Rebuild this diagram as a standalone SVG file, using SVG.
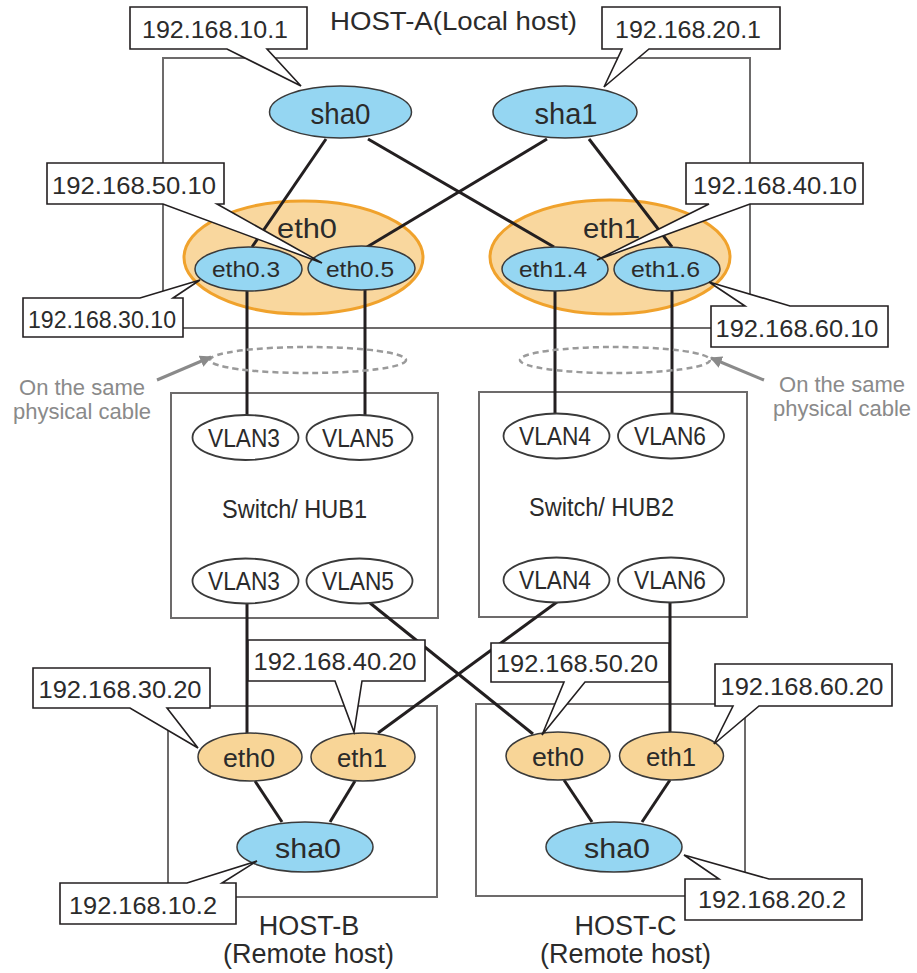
<svg xmlns="http://www.w3.org/2000/svg" width="917" height="973" viewBox="0 0 917 973">
<style>
  .bg{fill:#fff}
  .host{fill:none;stroke:#6d6b6b;stroke-width:2}
  .blue{fill:#95d6f2;stroke:#3a3a3a;stroke-width:1.5}
  .orng{fill:#f8d597;stroke:#3a3a3a;stroke-width:1.5}
  .big{fill:#f9d79e;stroke:#f0a22c;stroke-width:3}
  .vlan{fill:#fff;stroke:#3a3a3a;stroke-width:1.8}
  .link{stroke:#231f20;stroke-width:3;fill:none}
  .call{fill:#fff;stroke:#231f20;stroke-width:1.6}
  .t{font-family:"Liberation Sans",Arial,sans-serif;fill:#2b2b2b;text-anchor:middle}
  .ip{font-size:24px}
  .nm{font-size:27px}
  .sm{font-size:22px}
  .vl{font-size:25px}
  .gray{font-family:"Liberation Sans",Arial,sans-serif;fill:#8a8a8a;font-size:22px;text-anchor:middle}
  .dash{fill:none;stroke:#9a9a9a;stroke-width:2.5;stroke-dasharray:6 4}
  .arr{stroke:#8a8a8a;stroke-width:3;fill:none}
  .hub{font-family:"Liberation Sans",Arial,sans-serif;font-size:25px;fill:#2b2b2b}
</style>
<defs>
  <marker id="ah" viewBox="0 0 10 10" refX="9" refY="5" markerWidth="4" markerHeight="4" orient="auto">
    <path d="M0,0 L10,5 L0,10 Z" fill="#8a8a8a"/>
  </marker>
</defs>
<rect class="bg" x="0" y="0" width="917" height="973"/>

<!-- Host / switch boxes -->
<g id="host-a">
  <rect class="host" x="163" y="58" width="587" height="270"/>
  <text class="t" x="453.5" y="30" style="font-size:25px" textLength="247" lengthAdjust="spacingAndGlyphs">HOST-A(Local host)</text>
</g>
<g id="hub1">
  <rect class="host" x="171" y="393" width="267" height="225"/>
  <text class="hub" x="222" y="518" textLength="145" lengthAdjust="spacingAndGlyphs">Switch/ HUB1</text>
</g>
<g id="hub2">
  <rect class="host" x="479" y="392" width="268" height="225"/>
  <text class="hub" x="529" y="516" textLength="145" lengthAdjust="spacingAndGlyphs">Switch/ HUB2</text>
</g>
<g id="host-b">
  <rect class="host" x="168" y="706" width="269" height="191"/>
  <text class="t nm" x="309" y="935">HOST-B</text>
  <text class="t nm" x="308.5" y="963">(Remote host)</text>
</g>
<g id="host-c">
  <rect class="host" x="476" y="704" width="269" height="192"/>
  <text class="t nm" x="625.5" y="935">HOST-C</text>
  <text class="t nm" x="625.5" y="963">(Remote host)</text>
</g>

<!-- big eth ellipses -->
<g id="a-eth0">
  <ellipse class="big" cx="303.5" cy="257.5" rx="119.5" ry="56.5"/>
  <text class="t" style="font-size:28px" x="307" y="238" textLength="60" lengthAdjust="spacingAndGlyphs">eth0</text>
</g>
<g id="a-eth1">
  <ellipse class="big" cx="610" cy="257" rx="120" ry="57"/>
  <text class="t" style="font-size:28px" x="611.5" y="238" textLength="57" lengthAdjust="spacingAndGlyphs">eth1</text>
</g>

<!-- connectors -->
<g id="connectors">
  <line class="link" x1="326" y1="139" x2="252" y2="247"/>
  <line class="link" x1="368" y1="139" x2="554" y2="247"/>
  <line class="link" x1="547" y1="139" x2="367" y2="247"/>
  <line class="link" x1="589" y1="139" x2="672" y2="247"/>
  <line class="link" x1="247" y1="291" x2="247" y2="415"/>
  <line class="link" x1="365" y1="290" x2="365" y2="415"/>
  <line class="link" x1="555" y1="291" x2="555" y2="413"/>
  <line class="link" x1="672" y1="291" x2="672" y2="413"/>
  <line class="link" x1="247" y1="604" x2="247" y2="733"/>
  <line class="link" x1="370" y1="603" x2="533" y2="734"/>
  <line class="link" x1="557" y1="602" x2="378" y2="733"/>
  <line class="link" x1="670" y1="602" x2="670" y2="732"/>
  <line class="link" x1="255" y1="781" x2="282" y2="822"/>
  <line class="link" x1="355" y1="781" x2="330" y2="822"/>
  <line class="link" x1="564" y1="780" x2="592" y2="822"/>
  <line class="link" x1="670" y1="780" x2="642" y2="822"/>
</g>

<!-- HOST-A nodes -->
<g id="a-sha0"><ellipse class="blue" cx="340.5" cy="112" rx="71" ry="26"/><text class="t" style="font-size:29px" x="340.5" y="124" textLength="60" lengthAdjust="spacingAndGlyphs">sha0</text></g>
<g id="a-sha1"><ellipse class="blue" cx="565" cy="112" rx="72" ry="26"/><text class="t" style="font-size:29px" x="566" y="124" textLength="63" lengthAdjust="spacingAndGlyphs">sha1</text></g>
<g id="a-eth03"><ellipse class="blue" cx="248.5" cy="269" rx="53.5" ry="22"/><text class="t sm" x="246" y="277" textLength="68" lengthAdjust="spacingAndGlyphs">eth0.3</text></g>
<g id="a-eth05"><ellipse class="blue" cx="361.5" cy="268" rx="53.5" ry="22"/><text class="t sm" x="360" y="277" textLength="68" lengthAdjust="spacingAndGlyphs">eth0.5</text></g>
<g id="a-eth14"><ellipse class="blue" cx="555" cy="269" rx="53" ry="22"/><text class="t sm" x="553" y="277" textLength="68" lengthAdjust="spacingAndGlyphs">eth1.4</text></g>
<g id="a-eth16"><ellipse class="blue" cx="667" cy="269" rx="53" ry="22"/><text class="t sm" x="665.5" y="277" textLength="69" lengthAdjust="spacingAndGlyphs">eth1.6</text></g>

<!-- VLANs -->
<g id="hub1-vlan3-top"><ellipse class="vlan" cx="245.5" cy="437.5" rx="53" ry="22.5"/><text class="t vl" x="244" y="447" textLength="72" lengthAdjust="spacingAndGlyphs">VLAN3</text></g>
<g id="hub1-vlan5-top"><ellipse class="vlan" cx="359.5" cy="437.5" rx="53" ry="22.5"/><text class="t vl" x="358" y="447" textLength="72" lengthAdjust="spacingAndGlyphs">VLAN5</text></g>
<g id="hub1-vlan3-bot"><ellipse class="vlan" cx="245.5" cy="581" rx="53" ry="22.5"/><text class="t vl" x="244" y="590" textLength="72" lengthAdjust="spacingAndGlyphs">VLAN3</text></g>
<g id="hub1-vlan5-bot"><ellipse class="vlan" cx="359.5" cy="581" rx="53" ry="22.5"/><text class="t vl" x="358" y="590" textLength="72" lengthAdjust="spacingAndGlyphs">VLAN5</text></g>
<g id="hub2-vlan4-top"><ellipse class="vlan" cx="556.5" cy="436" rx="53" ry="22.5"/><text class="t vl" x="555" y="445" textLength="72" lengthAdjust="spacingAndGlyphs">VLAN4</text></g>
<g id="hub2-vlan6-top"><ellipse class="vlan" cx="671" cy="436" rx="53" ry="22.5"/><text class="t vl" x="670" y="445" textLength="72" lengthAdjust="spacingAndGlyphs">VLAN6</text></g>
<g id="hub2-vlan4-bot"><ellipse class="vlan" cx="556.5" cy="580" rx="53" ry="22.5"/><text class="t vl" x="555" y="589" textLength="72" lengthAdjust="spacingAndGlyphs">VLAN4</text></g>
<g id="hub2-vlan6-bot"><ellipse class="vlan" cx="671" cy="580" rx="53" ry="22.5"/><text class="t vl" x="670" y="589" textLength="72" lengthAdjust="spacingAndGlyphs">VLAN6</text></g>

<!-- HOST-B nodes -->
<g id="b-eth0"><ellipse class="orng" cx="250" cy="757" rx="52" ry="24"/><text class="t" style="font-size:25px" x="249" y="767" textLength="52" lengthAdjust="spacingAndGlyphs">eth0</text></g>
<g id="b-eth1"><ellipse class="orng" cx="363" cy="757" rx="52" ry="24"/><text class="t" style="font-size:25px" x="362" y="767" textLength="50" lengthAdjust="spacingAndGlyphs">eth1</text></g>
<g id="b-sha0"><ellipse class="blue" cx="305" cy="847" rx="68" ry="25"/><text class="t" style="font-size:28px" x="308" y="858" textLength="66" lengthAdjust="spacingAndGlyphs">sha0</text></g>
<!-- HOST-C nodes -->
<g id="c-eth0"><ellipse class="orng" cx="558" cy="756" rx="52" ry="24"/><text class="t" style="font-size:25px" x="558" y="766" textLength="52" lengthAdjust="spacingAndGlyphs">eth0</text></g>
<g id="c-eth1"><ellipse class="orng" cx="671.5" cy="756" rx="52" ry="24"/><text class="t" style="font-size:25px" x="671" y="766" textLength="50" lengthAdjust="spacingAndGlyphs">eth1</text></g>
<g id="c-sha0"><ellipse class="blue" cx="614" cy="847" rx="68" ry="25"/><text class="t" style="font-size:28px" x="617" y="858" textLength="66" lengthAdjust="spacingAndGlyphs">sha0</text></g>

<!-- physical cable marks -->
<g id="cable-left">
  <ellipse class="dash" cx="308" cy="360" rx="98" ry="13"/>
  <line class="arr" x1="157" y1="380" x2="211" y2="357" marker-end="url(#ah)"/>
  <text class="gray" x="82" y="395">On the same</text>
  <text class="gray" x="82" y="419">physical cable</text>
</g>
<g id="cable-right">
  <ellipse class="dash" cx="615" cy="360" rx="95" ry="13"/>
  <line class="arr" x1="764" y1="380" x2="711" y2="358" marker-end="url(#ah)"/>
  <text class="gray" x="842" y="392">On the same</text>
  <text class="gray" x="842" y="416">physical cable</text>
</g>

<!-- callouts -->
<g id="ip-10-1"><path class="call" d="M130,7 H307 V49 H267 L301,86 L227,49 H130 Z"/><text class="t ip" x="215" y="38" textLength="146" lengthAdjust="spacingAndGlyphs">192.168.10.1</text></g>
<g id="ip-20-1"><path class="call" d="M602,7 H780 V49 H649 L604,87 L622,49 H602 Z"/><text class="t ip" x="688" y="38" textLength="146" lengthAdjust="spacingAndGlyphs">192.168.20.1</text></g>
<g id="ip-50-10"><path class="call" d="M47,163 H224 V204 H217 L322,263 L163,204 H47 Z"/><text class="t ip" x="134" y="194" textLength="164" lengthAdjust="spacingAndGlyphs">192.168.50.10</text></g>
<g id="ip-30-10"><path class="call" d="M23,298 H140 L200,280 L173,298 H183 V337 H23 Z"/><text class="t ip" x="102" y="328" textLength="148" lengthAdjust="spacingAndGlyphs">192.168.30.10</text></g>
<g id="ip-40-10"><path class="call" d="M686,163 H863 V204 H750 L597,260 L709,204 H686 Z"/><text class="t ip" x="775" y="194" textLength="164" lengthAdjust="spacingAndGlyphs">192.168.40.10</text></g>
<g id="ip-60-10"><path class="call" d="M711,306 H745 L709,282 L790,306 H888 V347 H711 Z"/><text class="t ip" x="797" y="337" textLength="163" lengthAdjust="spacingAndGlyphs">192.168.60.10</text></g>
<g id="ip-40-20"><path class="call" d="M248,640 H425 V681 H362 L354,732 L335,681 H248 Z"/><text class="t ip" x="335" y="670" textLength="163" lengthAdjust="spacingAndGlyphs">192.168.40.20</text></g>
<g id="ip-30-20"><path class="call" d="M33,668 H210 V708 H167 L198,748 L130,708 H33 Z"/><text class="t ip" x="120" y="698" textLength="163" lengthAdjust="spacingAndGlyphs">192.168.30.20</text></g>
<g id="ip-10-2"><path class="call" d="M60,883 H187 L257,861 L222,883 H236 V924 H60 Z"/><text class="t ip" x="143" y="914" textLength="148" lengthAdjust="spacingAndGlyphs">192.168.10.2</text></g>
<g id="ip-50-20"><path class="call" d="M491,643 H669 V682 H585 L542,735 L564,682 H491 Z"/><text class="t ip" x="577" y="672" textLength="162" lengthAdjust="spacingAndGlyphs">192.168.50.20</text></g>
<g id="ip-60-20"><path class="call" d="M715,664 H892 V706 H759 L714,744 L733,706 H715 Z"/><text class="t ip" x="802" y="695" textLength="163" lengthAdjust="spacingAndGlyphs">192.168.60.20</text></g>
<g id="ip-20-2"><path class="call" d="M685,879 H719 L684,855 L769,879 H862 V920 H685 Z"/><text class="t ip" x="772" y="908" textLength="148" lengthAdjust="spacingAndGlyphs">192.168.20.2</text></g>
</svg>
